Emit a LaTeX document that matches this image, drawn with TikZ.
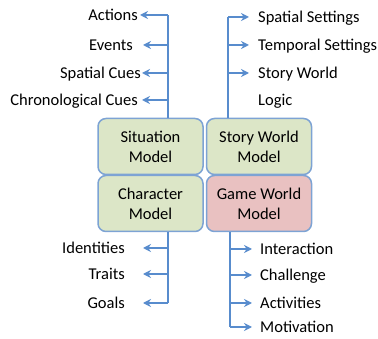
\documentclass[tikz,border=0pt]{standalone}
\usepackage{fontspec}
\setmainfont{Carlito}
\usetikzlibrary{arrows.meta}
\definecolor{arrowblue}{RGB}{88,140,205}
\definecolor{boxline}{RGB}{125,163,212}
\definecolor{boxgreen}{RGB}{220,230,199}
\definecolor{boxpink}{RGB}{233,193,193}
\tikzset{
BOX/.style={draw=boxline, line width=1.5pt, rounded corners=8pt, minimum width=105pt, minimum height=56pt, align=center, font=\fontsize{16.5}{20}\selectfont, fill=#1},
BOX/.default=boxgreen,
TRUNK/.style={draw=arrowblue, line width=2pt},
ARROW/.style={draw=arrowblue, line width=2pt, -{Stealth[length=8pt,width=8pt]}},
LABEL/.style={inner ysep=0pt, font=\fontsize{16.5}{27}\selectfont},
}
\begin{document}
\begin{tikzpicture}
[x=1pt, y=-1pt]
	\useasboundingbox (0,0) rectangle (378,339);
	% the four models
	\node[BOX] (sit) at (150.5,146.5) {Situation\\Model};
	\node[BOX] (swm) at (259,146.5) {Story World\\Model};
	\node[BOX] (chr) at (150.5,203.5) {Character\\Model};
	\node[BOX=boxpink] (gwm) at (259,203.5) {Game World\\Model};
	% trunks
	\coordinate (sittop) at (168,15);
	\coordinate (swmtop) at (228,17);
	\coordinate (chrbot) at (168,303);
	\coordinate (gwmbot) at (230,327);
	\draw[TRUNK] (sit.north -| sittop) -- (sittop);
	\draw[TRUNK] (swm.north -| swmtop) -- (swmtop);
	\draw[TRUNK] (chr.south -| chrbot) -- (chrbot);
	\draw[TRUNK] (gwm.south -| gwmbot) -- (gwmbot);
	% situation model
	\foreach \x/\y/\s/\t/\n in {140/15/2/Actions/act, 143/45/10/Events/evt, 142/73/1/Spatial Cues/spc, 142/100/4/Chronological Cues/chc} {
	\node[LABEL, inner xsep=\s pt, text height=11pt, text depth=0pt, anchor=east] (\n) at (\x,\y) {\t};
	\draw[ARROW] (sittop |- \n.east) -- (\n.east);}
	% story world model
	\foreach \y/\t/\n in {17/Spatial Settings/sps, 45/Temporal Settings/tps} {
	\node[LABEL, inner xsep=9pt, text height=11pt, text depth=0pt, anchor=west] (\n) at (249,\y) {\t};
	\draw[ARROW] (swmtop |- \n.west) -- (\n.west);}
	\node[LABEL, inner xsep=9pt, align=left, anchor=north west] (swl) at (249,67) {Story World\\Logic};
	\draw[ARROW] (swmtop |- 0,73) -- ([yshift=-6pt]swl.north west);
	% character model
	\foreach \y/\t/\n in {248/Identities/idt, 274/Traits/trt, 303/Goals/gls} {
	\node[LABEL, inner xsep=18pt, text height=11pt, text depth=0pt, anchor=east] (\n) at (143,\y) {\t};
	\draw[ARROW] (chrbot |- \n.east) -- (\n.east);}
	% game world model
	\foreach \y/\t/\n in {249/Interaction/int, 275/Challenge/chl, 303/Activities/acv, 327/Motivation/mtv} {
	\node[LABEL, inner xsep=8pt, text height=11pt, text depth=0pt, anchor=west] (\n) at (252,\y) {\t};
	\draw[ARROW] (gwmbot |- \n.west) -- (\n.west);}
\end{tikzpicture}
\end{document}
